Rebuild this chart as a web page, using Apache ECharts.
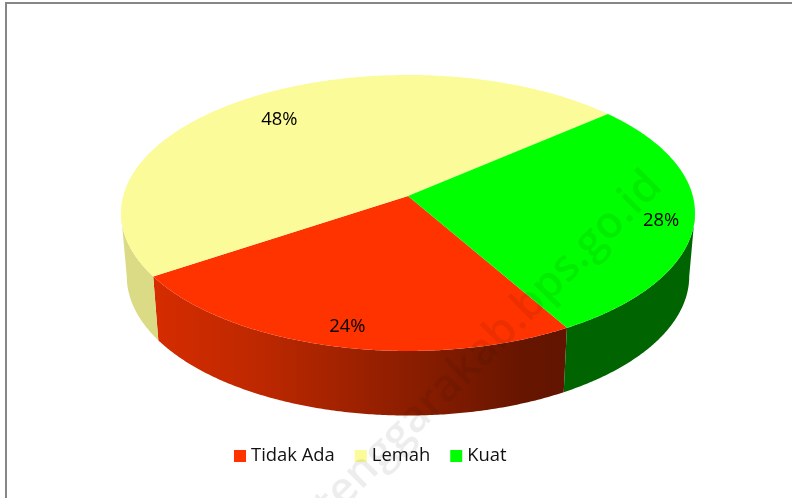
<!DOCTYPE html>
<html><head><meta charset="utf-8">
<style>html,body{margin:0;padding:0;background:#fff}#c{width:792px;height:498px}</style>
<script src="https://cdn.jsdelivr.net/npm/echarts@6/dist/echarts.min.js"></script>
</head><body><div id="c"></div>
<script>
const categories = ['Tidak Ada', 'Lemah', 'Kuat'];
const values = [24, 48, 28];
const topColors = ['#FF3300', '#FBFB99', '#00FF00'];
const labelRadii = [0.873, 0.784, 0.887];
const labelTurns = [-0.7, -1.2, 1.5];

const FONT = '"Open Sans", "Noto Sans", sans-serif';
const startDeg = 60.1;
const cx = 408, apexY = 196, a = 284.8, c = 135.9, k = 0.123;
const floorY = 259, floorScaleX = 0.98, floorScaleY = 1.01;
const total = values.reduce((s, v) => s + v, 0);
const tangentDeg = Math.asin(k) * 180 / Math.PI;

function project(deg, r) {
  const t = deg * Math.PI / 180, u = r * Math.cos(t), v = r * Math.sin(t), w = 1 - k * v;
  return [a * u / w, c * v / w];
}
const topPt = (deg, r = 1) => { const p = project(deg, r); return [cx + p[0], apexY + p[1]]; };
const botPt = (deg) => { const p = project(deg, 1); return [cx + p[0] * floorScaleX, floorY + p[1] * floorScaleY]; };

const wallFills = [
  new echarts.graphic.LinearGradient(0, 0, 1, 0, [
    { offset: 0, color: '#D62C00' }, { offset: 0.25, color: '#BE2800' },
    { offset: 0.6, color: '#8E1E00' }, { offset: 0.9, color: '#661500' }, { offset: 1, color: '#621400' }
  ]),
  '#DBDB85',
  '#006400'
];

function arcPts(fn, from, to) {
  const n = Math.max(2, Math.ceil(Math.abs(to - from) * 2)), out = [];
  for (let i = 0; i <= n; i++) out.push(fn(from + (to - from) * i / n));
  return out;
}

// The part of a slice's rim that faces the viewer: the range between the two silhouette tangents.
function frontRange(from, to) {
  const lo = tangentDeg, hi = 180 - tangentDeg;
  for (const shift of [0, 360, -360]) {
    const f = Math.max(from + shift, lo), t = Math.min(to + shift, hi);
    if (t > f) return [f, t];
  }
  return null;
}

function renderSlice(idx) {
  return function (params, api) {
    const before = values.slice(0, idx).reduce((s, v) => s + v, 0);
    const from = startDeg + before / total * 360;
    const to = from + api.value(0) / total * 360;
    const mid = (from + to) / 2;
    const rimTop = arcPts(topPt, from, to);
    const lp = topPt(mid + labelTurns[idx], labelRadii[idx]);
    const children = [
      { type: 'polygon', z2: 5, silent: true, shape: { points: [[cx, apexY]].concat(rimTop) }, style: { fill: topColors[idx] } },
      { type: 'text', z2: 10, silent: true, x: lp[0], y: lp[1] + 1,
        style: { text: api.value(0) + '%', fill: '#000', font: '18.4px ' + FONT, textAlign: 'center', textVerticalAlign: 'middle' } }
    ];
    const front = frontRange(from, to);
    if (front) {
      const wall = arcPts(topPt, front[0], front[1]).concat(arcPts(botPt, front[0], front[1]).reverse());
      children.unshift({ type: 'polygon', z2: 1, silent: true, shape: { points: wall }, style: { fill: wallFills[idx] } });
    }
    return { type: 'group', children };
  };
}

const chart = echarts.init(document.getElementById('c'), null, { renderer: 'canvas' });
chart.setOption({
  animation: false,
  backgroundColor: '#fff',
  legend: {
    left: 234, top: 447, padding: 0, itemWidth: 12, itemHeight: 12, itemGap: 20, selectedMode: false,
    icon: 'rect',
    data: categories,
    textStyle: { fontFamily: FONT, fontSize: 18.4, color: '#111' }
  },
  graphic: [
    { type: 'text', silent: true, z: 100, x: 655, y: 179, rotation: Math.PI / 4,
      style: { text: 'tenggarakab.bps.go.id', font: '600 44px ' + FONT, fill: 'rgba(0,0,0,0.07)', textAlign: 'right', textVerticalAlign: 'middle' } },
    { type: 'polyline', silent: true, z: 100, shape: { points: [[6, 498], [6, 3], [792, 3]] },
      style: { fill: 'none', stroke: '#868686', lineWidth: 2 } }
  ],
  series: categories.map((name, i) => ({
    type: 'custom', name, coordinateSystem: 'none',
    itemStyle: { color: topColors[i] },
    renderItem: renderSlice(i),
    data: [[values[i]]]
  }))
});
</script></body></html>
